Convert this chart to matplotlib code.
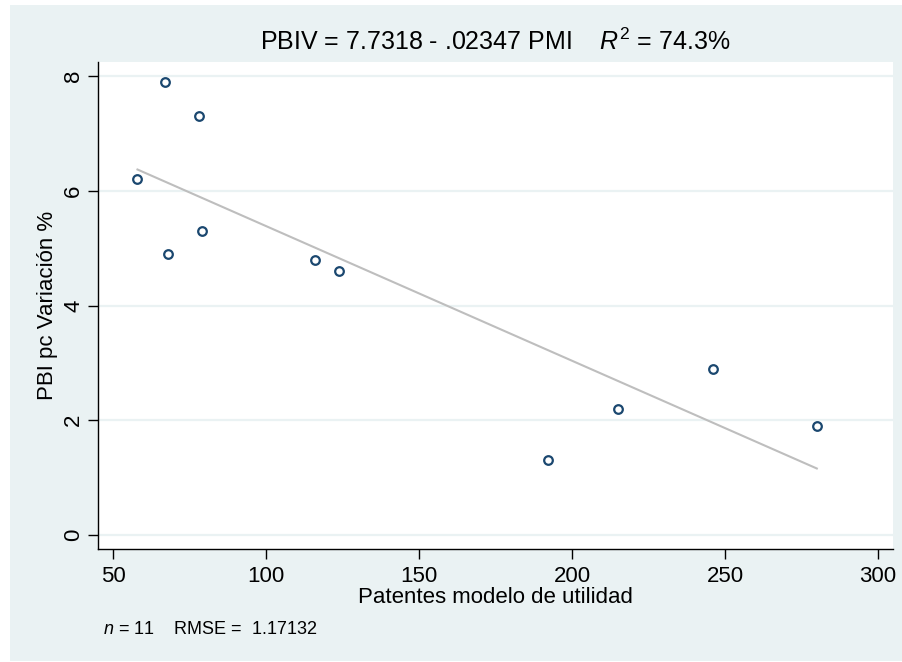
import numpy as np
import matplotlib
matplotlib.use("Agg")
import matplotlib.pyplot as plt
from matplotlib.patches import Rectangle

plt.rcParams['font.family'] = ['Liberation Sans', 'DejaVu Sans']
plt.rcParams['mathtext.fontset'] = 'custom'
plt.rcParams['mathtext.rm'] = 'Liberation Sans'
plt.rcParams['mathtext.it'] = 'Liberation Sans:italic'

# Data
pmi = [58, 67, 78, 68, 79, 116, 124, 192, 215, 246, 280]
pbiv = [6.2, 7.9, 7.3, 4.9, 5.3, 4.8, 4.6, 1.3, 2.2, 2.9, 1.9]
x_ticks = [50, 100, 150, 200, 250, 300]
y_ticks = [0, 2, 4, 6, 8]
title = r"PBIV = 7.7318 - .02347 PMI    $\mathit{R}^{2}$ = 74.3%"
note = r"$\mathit{n}$ = 11    RMSE =  1.17132"
xlabel = "Patentes modelo de utilidad"
ylabel = "PBI pc Variación %"

BG = "#EAF2F3"
NAVY = "#1A476F"

fig = plt.figure(figsize=(9.03, 6.62), dpi=100)
fig.patch.set_facecolor("white")
fig.patches.append(Rectangle((10/903, 1/662), 1 - 10/903, (656)/662,
                             transform=fig.transFigure, facecolor=BG,
                             edgecolor="none", zorder=-10))

ax = fig.add_axes([98/903, (662-549)/662, (893-98)/903, (549-62)/662])
ax.set_facecolor("white")

x = np.array(pmi, dtype=float)
y = np.array(pbiv, dtype=float)
slope, intercept = np.polyfit(x, y, 1)
xs = np.array([x.min(), x.max()])
ax.plot(xs, intercept + slope * xs, color="#BEBEBE", lw=1.5, zorder=2)
ax.plot(x, y, linestyle="none", marker="o", markersize=6.2,
        markerfacecolor="none", markeredgecolor=NAVY, markeredgewidth=1.6, zorder=3)

ax.set_xlim(45.1, 304.9)
ax.set_ylim(-0.244, 8.244)
ax.set_xticks(x_ticks)
ax.set_yticks(y_ticks)
ax.set_yticklabels([str(v) for v in y_ticks], rotation=90, va="center")
for v in y_ticks:
    ax.axhline(v, color=BG, lw=1.6, zorder=1)

for s in ["top", "right"]:
    ax.spines[s].set_visible(False)
for s in ["left", "bottom"]:
    ax.spines[s].set_color("black")
    ax.spines[s].set_linewidth(1.0)
ax.tick_params(axis="both", length=7, width=1.0, color="black",
               labelsize=16, labelcolor="black")
ax.tick_params(axis="x", pad=5)
ax.tick_params(axis="y", pad=3)

ax.set_xlabel(xlabel, fontsize=16, labelpad=0)
ax.set_ylabel(ylabel, fontsize=16, labelpad=4)
fig.text(495/903, 1 - 42/662, title, fontsize=18, ha="center", va="center")
fig.text(103/903, 1 - 629/662, note, fontsize=13, ha="left", va="center")

fig.savefig("out.png", dpi=100, facecolor=fig.get_facecolor())
